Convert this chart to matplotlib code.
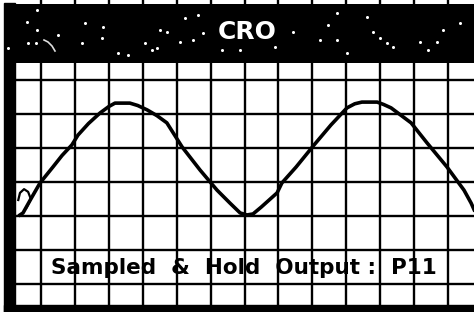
import matplotlib
matplotlib.use("Agg")
import matplotlib.pyplot as plt
from matplotlib.patches import Rectangle

# waveform trace, in screen divisions (vertical grid lines at x = 1..13,
# horizontal grid lines at y = 1..7)
trace_x = [0.38, 0.47, 0.70, 0.97, 1.35, 1.62, 1.91, 2.09, 2.40, 2.74, 3.00, 3.18,
           3.62, 3.85, 4.13, 4.42, 4.71, 5.16, 5.69, 6.19, 6.57, 6.87, 7.07, 7.25,
           7.49, 7.96, 8.10, 8.52, 9.05, 9.55, 10.02, 10.25, 10.46, 10.91, 11.10,
           11.32, 11.91, 12.38, 12.97, 13.47, 13.68, 13.77]
trace_y = [3.03, 3.09, 3.50, 3.97, 4.44, 4.78, 5.09, 5.38, 5.72, 6.03, 6.22, 6.32,
           6.32, 6.25, 6.12, 5.95, 5.74, 5.03, 4.35, 3.76, 3.38, 3.09, 3.03, 3.06,
           3.26, 3.68, 3.97, 4.44, 5.09, 5.68, 6.18, 6.30, 6.35, 6.35, 6.28,
           6.18, 5.74, 5.15, 4.44, 3.76, 3.38, 3.18]

# small hook at the start of the trace
hook_x = [0.33, 0.38, 0.50, 0.62, 0.70, 0.58]
hook_y = [3.47, 3.68, 3.79, 3.71, 3.50, 3.26]

# stars in the title band (pixel positions)
star_x = [37, 27, 37, 58, 28, 36, 85, 82, 103, 102, 118, 128, 145, 160, 167, 152,
          157, 180, 185, 198, 203, 193, 240, 293, 320, 328, 337, 337, 367, 373,
          380, 387, 393, 420, 428, 437, 460, 443, 275, 222, 347, 8]
star_y = [10, 22, 30, 35, 43, 43, 23, 43, 27, 38, 53, 55, 43, 30, 32, 50,
          48, 42, 18, 15, 33, 40, 50, 32, 40, 25, 40, 13, 17, 32,
          38, 43, 47, 42, 50, 42, 23, 30, 47, 50, 53, 48]

title = "CRO"
label = "Sampled  &  Hold  Output :  P11"

fig = plt.figure(figsize=(4.74, 3.12), dpi=100)
fig.patch.set_facecolor("white")

ax = fig.add_axes([0, 0, 1, 1])
ax.set_xlim(-0.209, 13.765)
ax.set_ylim(0.176, 9.353)
ax.axis("off")

for i in range(1, 14):
    ax.axvline(i, color="black", lw=1.7, zorder=1)
for j in range(1, 8):
    ax.axhline(j, xmin=0.02, color="black", lw=1.7, zorder=1)

# frame: left and bottom borders
ax.add_patch(Rectangle((-0.091, 0.176), 0.324, 9.1, color="black", zorder=3))
ax.add_patch(Rectangle((-0.091, 0.176), 13.9, 0.206, color="black", zorder=3))

ax.plot(trace_x, trace_y, color="black", lw=2.6, solid_joinstyle="round", zorder=2)
ax.plot(hook_x, hook_y, color="black", lw=1.6, zorder=2)

ax.text(6.97, 1.47, label, ha="center", va="center", fontsize=15.5,
        fontweight="bold", family="DejaVu Sans", color="black", zorder=4)

# title band
band = fig.add_axes([4 / 474, 1 - 63 / 312, 470 / 474, 59 / 312])
band.set_facecolor("black")
band.set_xlim(4, 474)
band.set_ylim(63, 4)
band.set_xticks([])
band.set_yticks([])
for s in band.spines.values():
    s.set_visible(False)
band.plot(star_x, star_y, "o", color="white", ms=2.2, mew=0)
band.plot([44, 48, 52, 55], [40, 42, 46, 51], color="#dddddd", lw=1.2)
band.text(247, 32, title, ha="center", va="center", fontsize=18,
          fontweight="bold", family="DejaVu Sans", color="white")

fig.savefig("out.png", dpi=100)
